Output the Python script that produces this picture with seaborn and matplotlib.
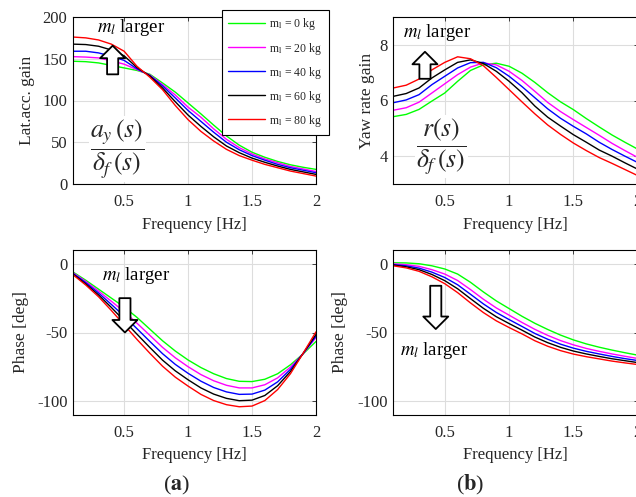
import matplotlib
matplotlib.use('Agg')
import matplotlib.pyplot as plt
from matplotlib.lines import Line2D
import seaborn as sns
import pandas as pd

# frequency axis [Hz]
freq = [0.1, 0.2, 0.3, 0.4, 0.5, 0.6, 0.7, 0.8, 0.9, 1.0,
        1.1, 1.2, 1.3, 1.4, 1.5, 1.6, 1.7, 1.8, 1.9, 2.0]
masses = ['0', '20', '40', '60', '80']
line_colors = ['#00ff00', '#ff00ff', '#0000ff', '#000000', '#ff0000']

# lateral acceleration gain, one row per load mass
lat_gain = [
    [147, 146.5, 145, 142, 139, 136, 131.5, 121, 110, 97, 84, 70.5, 57.5, 46.5, 38, 32, 27, 23, 20, 17.5],
    [152.5, 152, 151, 147.5, 143.5, 137, 130.7, 119, 106.5, 92, 80, 66, 53.5, 43.5, 36, 30, 25.5, 21, 18, 15],
    [159, 159, 157, 153, 148, 138, 130, 117.5, 103, 88, 75, 62, 50, 41, 34, 28.5, 23.5, 19.5, 16.5, 13.5],
    [167.5, 167, 165, 160.5, 153.5, 139.5, 129.5, 115, 98.5, 82.5, 69, 56.5, 45.5, 37.5, 31, 26, 21.5, 17.5, 14.5, 11.5],
    [176, 175, 172.5, 167.5, 159, 141, 128, 113, 94, 77, 63, 51.5, 41.5, 34, 28.5, 23.5, 19.5, 15.5, 12.5, 9.5],
]

# yaw rate gain
yaw_gain = [
    [5.42, 5.5, 5.68, 5.98, 6.27, 6.69, 7.08, 7.28, 7.34, 7.23, 6.98, 6.65, 6.28, 5.95, 5.67, 5.35, 5.05, 4.76, 4.5, 4.25],
    [5.65, 5.74, 5.94, 6.27, 6.6, 6.93, 7.2, 7.35, 7.28, 7.05, 6.72, 6.33, 5.93, 5.6, 5.31, 5.03, 4.75, 4.46, 4.2, 3.95],
    [5.92, 6.02, 6.21, 6.57, 6.87, 7.17, 7.36, 7.37, 7.18, 6.87, 6.5, 6.1, 5.7, 5.36, 5.07, 4.8, 4.5, 4.24, 4.0, 3.77],
    [6.15, 6.25, 6.45, 6.81, 7.1, 7.37, 7.46, 7.33, 7.05, 6.69, 6.28, 5.8, 5.4, 5.08, 4.77, 4.5, 4.22, 4.0, 3.76, 3.53],
    [6.45, 6.55, 6.77, 7.1, 7.37, 7.57, 7.5, 7.25, 6.83, 6.39, 5.95, 5.52, 5.12, 4.78, 4.47, 4.2, 3.95, 3.74, 3.52, 3.3],
]

# lateral acceleration phase [deg]
lat_phase = [
    [-6, -12, -18.5, -25, -31.5, -39, -47.5, -56, -63.5, -70, -75.5, -80, -83.5, -85.5, -85.7, -84, -80, -73.5, -65.5, -56.5],
    [-6.5, -12.9, -19.9, -27.3, -34.9, -43.2, -52, -60.8, -68.4, -74.9, -80.6, -85.1, -88.4, -90.3, -90.3, -88, -83, -75.2, -65.4, -53.6],
    [-7, -13.8, -21.3, -29.6, -38.1, -47.2, -56.4, -65.4, -73.2, -79.7, -85.4, -90, -93.2, -95, -94.8, -91.9, -85.9, -76.8, -65.2, -52.7],
    [-7.5, -14.7, -22.7, -31.8, -41.4, -51.2, -60.8, -70.1, -77.9, -84.4, -90.3, -94.8, -97.9, -99.6, -99.2, -95.8, -88.7, -78.4, -65.1, -51.4],
    [-8, -15.5, -24, -34, -44.5, -55, -65, -74.5, -82.5, -89, -95, -99.5, -102.5, -104, -103.5, -99.5, -91.5, -80, -65, -49.5],
]

# yaw rate phase [deg]
yaw_phase = [
    [0.7, 0.6, 0, -1.5, -3.8, -7.5, -13.5, -20.5, -27, -32.6, -38.2, -43.3, -47.8, -51.9, -55.4, -58.3, -60.7, -62.8, -64.7, -66.5],
    [-0.1, -0.7, -1.9, -4.3, -7.5, -12.2, -18.8, -25.8, -32.1, -37.4, -42.7, -47.7, -52.1, -55.9, -59, -61.6, -63.7, -65.6, -67.3, -68.9],
    [-0.6, -1.5, -3.2, -6.1, -10, -15.3, -22.2, -29.2, -35.4, -40.6, -45.6, -50.7, -54.9, -58.5, -61.4, -63.7, -65.6, -67.4, -69, -70.4],
    [-1.0, -2.2, -4.3, -7.8, -12.3, -18.2, -25.4, -32.4, -38.5, -43.5, -48.3, -53.3, -57.4, -60.8, -63.5, -65.6, -67.4, -69.1, -70.5, -71.9],
    [-1.5, -3, -5.5, -9.5, -14.5, -21, -28.5, -35.5, -41.5, -46.4, -51, -56, -60, -63.2, -65.7, -67.6, -69.2, -70.8, -72.1, -73.3],
]

sns.set_theme(style='white')
plt.rcParams['font.family'] = ['Liberation Serif', 'DejaVu Serif']
plt.rcParams['mathtext.fontset'] = 'stix'
plt.rcParams['axes.unicode_minus'] = False

TEXT_COLOR = '#262626'
ARROW = dict(arrowstyle='simple,head_length=0.45,head_width=0.9,tail_width=0.4',
             fc='white', ec='black', lw=1.3, mutation_scale=20)


def to_long(values):
    rows = []
    for mass, series in zip(masses, values):
        for f, v in zip(freq, series):
            rows.append({'freq': f, 'value': v, 'mass': mass})
    return pd.DataFrame(rows)


def draw_panel(ax, values, ylim, yticks, ylabel, ylabel_x):
    sns.lineplot(data=to_long(values), x='freq', y='value', hue='mass',
                 hue_order=masses, palette=line_colors, linewidth=1.0,
                 legend=False, ax=ax)
    ax.set_xlim(0.1, 2)
    ax.set_ylim(*ylim)
    ax.set_xticks([0.5, 1, 1.5, 2])
    ax.set_xticklabels(['0.5', '1', '1.5', '2'])
    ax.set_yticks(yticks)
    ax.set_yticklabels([str(t) for t in yticks])
    ax.grid(True, color='#dddddd', linewidth=0.8)
    ax.tick_params(direction='in', length=3, width=0.6, top=True, right=True,
                   labelsize=12, colors='#262626', pad=4)
    ax.tick_params(axis='x', pad=7)
    for s in ax.spines.values():
        s.set_color('black')
        s.set_linewidth(0.8)
    ax.set_xlabel('Frequency [Hz]', fontsize=12, color=TEXT_COLOR)
    ax.set_ylabel(ylabel, fontsize=12.5, color=TEXT_COLOR)
    ax.xaxis.set_label_coords(0.5, -0.195)
    ax.yaxis.set_label_coords(ylabel_x, 0.5)


fig = plt.figure(figsize=(6.36, 4.97), dpi=100)
W, H = 636, 497
ax_tl = fig.add_axes([73 / W, 1 - 184 / H, 243 / W, 167 / H])
ax_tr = fig.add_axes([393.3 / W, 1 - 184 / H, 244.5 / W, 167 / H])
ax_bl = fig.add_axes([73 / W, 1 - 415 / H, 243 / W, 165 / H])
ax_br = fig.add_axes([393.3 / W, 1 - 415 / H, 244.5 / W, 165 / H])

draw_panel(ax_tl, lat_gain, (0, 200), [0, 50, 100, 150, 200], 'Lat.acc. gain', -0.155)
draw_panel(ax_tr, yaw_gain, (3, 9), [4, 6, 8], 'Yaw rate gain', -0.075)
draw_panel(ax_bl, lat_phase, (-110, 10), [-100, -50, 0], 'Phase [deg]', -0.183)
draw_panel(ax_br, yaw_phase, (-110, 10), [-100, -50, 0], 'Phase [deg]', -0.185)

# "m_l larger" annotations with hollow block arrows
notes = [
    (ax_tl, (0.285, 187), (0.41, 128), (0.41, 169)),
    (ax_tr, (0.173, 8.43), (0.346, 6.68), (0.346, 7.85)),
    (ax_bl, (0.325, -8.5), (0.506, -23), (0.506, -52)),
    (ax_br, (0.152, -62.8), (0.43, -14), (0.43, -49.5)),
]
for ax, txt_xy, tail, tip in notes:
    ax.text(*txt_xy, r'$m_l$ larger', fontsize=13.5, ha='left', va='center',
            color='black', zorder=6)
    ax.annotate('', xy=tip, xytext=tail, arrowprops=ARROW,
                annotation_clip=False, zorder=6)

frac_box = dict(fc='white', ec='none', pad=1)
ax_tl.text(0.445, 42, r'$\dfrac{a_y\,(s)}{\delta_f\,(s)}$', fontsize=18.5,
           ha='center', va='center', bbox=frac_box, zorder=5)
ax_tr.text(0.475, 4.34, r'$\dfrac{r(s)}{\delta_f\,(s)}$', fontsize=18.5,
           ha='center', va='center', bbox=frac_box, zorder=5)

handles = [Line2D([], [], color=c, linewidth=1.0) for c in line_colors]
labels = [r'm$_{\rm l}$ = %s kg' % m for m in masses]
leg = fig.legend(handles, labels, loc='upper left',
                 bbox_to_anchor=(222 / W, 1 - 10 / H), fontsize=8.5,
                 handlelength=3.1, handletextpad=0.35, labelspacing=0.68,
                 borderpad=0.55, borderaxespad=0, frameon=True,
                 fancybox=False, framealpha=1)
leg.get_frame().set_edgecolor('black')
leg.get_frame().set_linewidth(0.8)

fig.text(176.7 / W, 1 - 485 / H, r'($\mathbf{a}$)', fontsize=16, ha='center', va='center')
fig.text(470 / W, 1 - 485 / H, r'($\mathbf{b}$)', fontsize=16, ha='center', va='center')

fig.savefig('out.png', dpi=100)
plt.close(fig)
